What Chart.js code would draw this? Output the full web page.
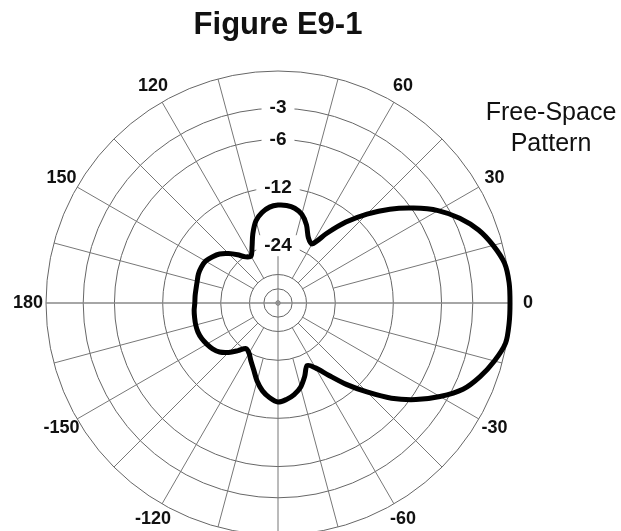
<!DOCTYPE html>
<html>
<head>
<meta charset="utf-8">
<title>Figure E9-1</title>
<script src="https://cdn.jsdelivr.net/npm/chart.js@4.4.0/dist/chart.umd.min.js"></script>
<style>
  html, body { margin: 0; padding: 0; background: #fff; overflow: hidden; width: 621px; height: 531px; }
  #wrap { position: absolute; left: 0; top: 0; width: 562px; height: 555px; }
  #note {
    position: absolute; left: 471px; top: 96px; width: 160px;
    text-align: center; font: 25px/31px "Liberation Sans", Arial, sans-serif; color: #111;
  }
</style>
</head>
<body>
<div id="wrap"><canvas id="pattern"></canvas></div>
<div id="note">Free-Space<br>Pattern</div>
<script>
// azimuth in degrees, counter-clockwise from 0 (right)
const angleDeg = [
  0, 5, 10, 15, 20, 25, 30, 35, 40, 45, 50, 55, 60, 65, 70, 75, 80, 85,
  90, 95, 100, 105, 110, 115, 120, 125, 130, 135, 140, 145, 150, 155, 160, 165, 170, 175,
  180, 185, 190, 195, 200, 205, 210, 215, 220, 225, 230, 235, 240, 245, 250, 255, 260, 265,
  270, 275, 280, 285, 290, 295, 300, 305, 310, 315, 320, 325, 330, 335, 340, 345, 350, 355
];
// relative gain in dB
const gainDb = [
  0, 0, -0.15, -0.7, -1.43, -2.5, -3.9, -5.8, -7.95, -10.5, -13.5, -17.2, -21.0, -20.1, -17.6, -15.9, -15.1, -14.8,
  -14.8, -15.1, -15.9, -17.2, -19.7, -22.8, -25.0, -24.3, -22.4, -20.6, -19.1, -18.2, -17.5, -17.3, -17.3, -17.5, -17.6, -17.6,
  -17.6, -17.4, -17.3, -17.2, -17.2, -17.4, -17.8, -18.3, -19.1, -20.6, -22.6, -24.5, -23.8, -22.1, -20.3, -18.1, -16.4, -15.3,
  -14.6, -15.0, -15.7, -16.8, -18.7, -20.8, -19.4, -16.6, -13.4, -10.5, -7.7, -5.5, -3.7, -2.2, -1.3, -0.6, -0.07, 0
];
const ringDb = [-80, -48, -36, -24, -12, -6, -3, 0];
const ringLabels = ['', '', '', '-24', '-12', '-6', '-3', ''];
const labelAngles = [0, 30, 60, 120, 150, 180, 210, 240, 300, 330];

// ARRL log scale: radius shrinks by 0.89 every 2 dB
const toR = db => Math.pow(0.89, -db / 2);

// radar runs clockwise from the top, so walk down from 90 degrees
const order = angleDeg.map((_, i) => (18 - i + 72) % 72);
const chartAngles = order.map(k => angleDeg[k]);
const chartValues = order.map(k => toR(gainDb[k]));

const FONT = '"Liberation Sans", Arial, sans-serif';
Chart.defaults.font.family = FONT;
const CLEAR = 'rgba(0,0,0,0)';

const angleLabelPlugin = {
  id: 'angleLabels',
  afterDraw(chart) {
    const scale = chart.scales.r;
    const ctx = chart.ctx;
    ctx.save();
    ctx.font = 'bold 18px ' + FONT;
    ctx.fillStyle = '#111';
    ctx.textAlign = 'center';
    ctx.textBaseline = 'middle';
    labelAngles.forEach(a => {
      const p = scale.getPointPosition(chartAngles.indexOf(a), scale.drawingArea + 18);
      ctx.fillText(String(a > 180 ? a - 360 : a), p.x, p.y);
    });
    ctx.restore();
  }
};

new Chart(document.getElementById('pattern'), {
  type: 'radar',
  data: {
    labels: chartAngles.map(String),
    datasets: [{
      data: chartValues,
      borderColor: '#000',
      borderWidth: 5,
      pointRadius: 0,
      fill: false,
      tension: 0.3
    }]
  },
  options: {
    responsive: true,
    maintainAspectRatio: false,
    animation: false,
    layout: { padding: { left: 35, right: 41, top: 0, bottom: 0 } },
    plugins: {
      legend: { display: false },
      tooltip: { enabled: false },
      title: {
        display: true,
        text: 'Figure E9-1',
        color: '#111',
        font: { size: 31, weight: 'bold' },
        padding: { top: 7, bottom: 7 }
      }
    },
    scales: {
      r: {
        min: 0,
        max: 1,
        startAngle: 0,
        afterBuildTicks: scale => {
          scale.ticks = [0, ...ringDb.map(toR)].map(v => ({ value: v }));
        },
        ticks: {
          display: true,
          color: '#111',
          font: { size: 19, weight: 'bold' },
          showLabelBackdrop: true,
          backdropColor: ctx => (ctx.tick && ctx.tick.label ? '#fff' : CLEAR),
          backdropPadding: { x: 8, y: 1 },
          callback: value => {
            const i = ringDb.findIndex(d => Math.abs(toR(d) - value) < 1e-9);
            return i < 0 ? '' : ringLabels[i];
          }
        },
        grid: { circular: true, color: '#666', lineWidth: 1 },
        // spokes every 15 deg; the odd ones start further out to keep the middle clear
        angleLines: {
          display: true,
          color: ctx => {
            const a = chartAngles[ctx.index];
            if (a % 15 !== 0) return CLEAR;
            return a === 0 || a === 180 ? '#888' : '#777';
          },
          lineWidth: ctx => {
            const a = chartAngles[ctx.index];
            return a === 0 || a === 180 ? 1.6 : 1;
          },
          borderDash: ctx => {
            const a = chartAngles[ctx.index];
            const s = ctx.scale;
            if (a === 0 || a === 180 || a === 270) return [];
            if (a === 90) return [s.getDistanceFromCenterForValue(toR(-24)), 2000];
            const from = (a % 30 === 0 || a % 45 === 0) ? -36 : -24;
            return [0, s.getDistanceFromCenterForValue(toR(from)), 2000];
          }
        },
        pointLabels: { display: false }
      }
    }
  },
  plugins: [angleLabelPlugin]
});
</script>
</body>
</html>
